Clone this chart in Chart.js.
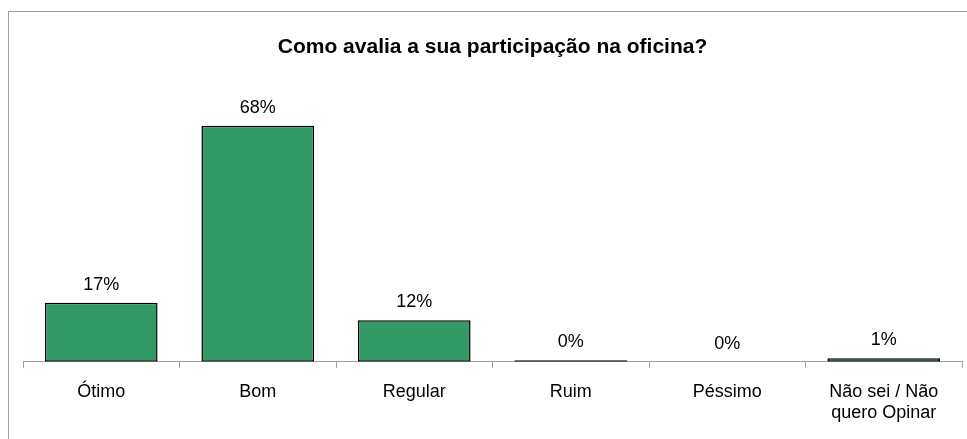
<!DOCTYPE html>
<html>
<head>
  <meta charset="utf-8">
  <title>Participação na oficina</title>
  <style>
    body {
      margin: 0;
      padding: 0;
      background-color: #ffffff;
      overflow: hidden;
    }

    .frame {
      position: absolute;
      left: 8px;
      top: 11px;
      width: 974px;
      height: 440px;
      border: 1px solid #a0a0a0;
    }

    .frame canvas {
      display: block;
    }
  </style>
  <script src="https://cdn.jsdelivr.net/npm/chart.js"></script>
</head>
<body>
<div class="frame">
  <canvas id="oficinaChart" width="974" height="427"></canvas>
</div>

<script>
  // Categories and percentages
  const categories = ['Ótimo', 'Bom', 'Regular', 'Ruim', 'Péssimo', ['Não sei / Não', 'quero Opinar']];
  const percentages = [17, 68, 12, 0.45, 0, 1];
  const yAxisMax = 80;

  // Draw the value labels above each bar
  const valueLabels = {
    id: 'valueLabels',
    afterDatasetsDraw(chart) {
      const ctx = chart.ctx;
      const meta = chart.getDatasetMeta(0);
      ctx.save();
      ctx.font = '18px "Liberation Sans", Arial, sans-serif';
      ctx.fillStyle = '#000000';
      ctx.textAlign = 'center';
      ctx.textBaseline = 'bottom';
      meta.data.forEach((bar, i) => {
        ctx.fillText(Math.round(percentages[i]) + '%', bar.x, bar.y - 9);
      });
      ctx.restore();
    }
  };

  const canvas = document.getElementById('oficinaChart');
  const chart = new Chart(canvas.getContext('2d'), {
    type: 'bar',
    data: {
      labels: categories,
      datasets: [
        {
          data: percentages,
          backgroundColor: '#339966',
          borderColor: '#000000',
          borderWidth: 1.5,
          borderSkipped: false,
          categoryPercentage: 0.72,
          barPercentage: 1
        }
      ]
    },
    options: {
      responsive: false,
      animation: false,
      layout: {
        padding: { left: 14, right: 21, top: 0, bottom: 2 }
      },
      plugins: {
        legend: { display: false },
        tooltip: { enabled: false },
        title: {
          display: true,
          text: 'Como avalia a sua participação na oficina?',
          color: '#000000',
          font: { family: '"Liberation Sans", Arial, sans-serif', size: 21, weight: 'bold' },
          padding: { top: 23, bottom: 24 }
        }
      },
      scales: {
        x: {
          grid: {
            offset: true,
            drawOnChartArea: false,
            drawTicks: true,
            tickLength: 6,
            color: '#a0a0a0'
          },
          border: { display: true, color: '#a0a0a0', width: 1 },
          ticks: {
            color: '#000000',
            padding: 13,
            maxRotation: 0,
            autoSkip: false,
            font: { family: '"Liberation Sans", Arial, sans-serif', size: 18, lineHeight: 1.2 }
          }
        },
        y: {
          display: false,
          min: 0,
          max: yAxisMax
        }
      }
    },
    plugins: [valueLabels]
  });
</script>

</body>
</html>
